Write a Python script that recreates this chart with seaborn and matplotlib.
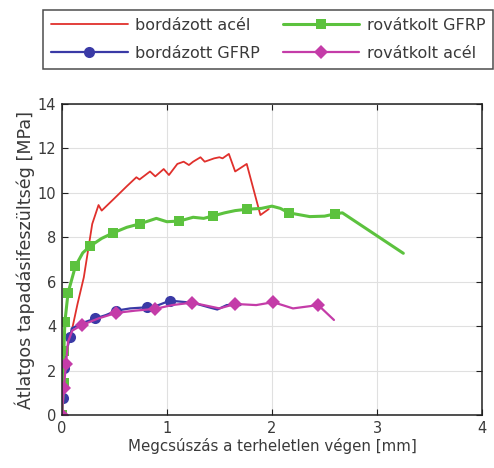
import matplotlib
matplotlib.use("Agg")
import matplotlib.pyplot as plt
import seaborn as sns
import pandas as pd

# --- data -------------------------------------------------------------
labels = ["bordázott acél", "bordázott GFRP", "rovátkolt GFRP", "rovátkolt acél"]

red_x = [0.10, 0.15, 0.21, 0.29, 0.35, 0.38, 0.49, 0.62, 0.71, 0.74, 0.84, 0.89,
         0.97, 1.02, 1.10, 1.16, 1.21, 1.25, 1.32, 1.36, 1.45, 1.50, 1.53, 1.59,
         1.65, 1.76, 1.89, 1.97]
red_y = [3.9, 5.0, 6.2, 8.6, 9.45, 9.2, 9.7, 10.3, 10.7, 10.6, 10.96, 10.74,
         11.07, 10.8, 11.3, 11.4, 11.25, 11.4, 11.6, 11.4, 11.55, 11.6, 11.55, 11.75,
         10.96, 11.3, 9.0, 9.27]

blue_x = [0.0, 0.015, 0.02, 0.04, 0.08, 0.095, 0.20, 0.32, 0.42, 0.52, 0.65, 0.81,
          0.92, 1.03, 1.25, 1.40, 1.48, 1.57, 1.70]
blue_y = [0.0, 0.75, 2.1, 2.8, 3.5, 3.9, 4.15, 4.35, 4.5, 4.7, 4.8, 4.85,
          4.95, 5.15, 5.05, 4.85, 4.75, 4.95, 4.95]
blue_marks = [1, 2, 4, 7, 9, 11, 13]

green_x = [0.0, 0.02, 0.02, 0.03, 0.06, 0.13, 0.20, 0.27, 0.38, 0.49, 0.62, 0.74,
           0.90, 1.00, 1.12, 1.25, 1.35, 1.44, 1.55, 1.65, 1.76, 1.90, 2.00, 2.08,
           2.16, 2.36, 2.50, 2.60, 2.67, 3.25]
green_y = [0.0, 1.43, 2.9, 4.2, 5.5, 6.7, 7.3, 7.6, 7.95, 8.2, 8.45, 8.6,
           8.85, 8.7, 8.73, 8.9, 8.85, 8.96, 9.1, 9.2, 9.26, 9.3, 9.4, 9.3,
           9.1, 8.93, 8.95, 9.05, 9.1, 7.28]
green_marks = [0, 1, 2, 3, 4, 5, 7, 9, 11, 14, 17, 20, 24, 27]

mag_x = [0.0, 0.02, 0.04, 0.06, 0.10, 0.19, 0.35, 0.52, 0.70, 0.89, 1.05, 1.24,
         1.40, 1.50, 1.65, 1.85, 2.01, 2.10, 2.20, 2.44, 2.59]
mag_y = [0.0, 1.2, 2.3, 3.3, 3.8, 4.05, 4.35, 4.6, 4.7, 4.78, 4.95, 5.06,
         4.9, 4.8, 5.0, 4.95, 5.08, 4.95, 4.8, 4.95, 4.28]
mag_marks = [0, 1, 2, 5, 7, 9, 11, 14, 16, 19]

x_ticks = [0, 1, 2, 3, 4]
y_ticks = [0, 2, 4, 6, 8, 10, 12, 14]
x_label = "Megcsúszás a terheletlen végen [mm]"
y_label = "Átlatgos tapadásifeszültség [MPa]"

# --- style ------------------------------------------------------------
sns.set_theme(style="whitegrid")
plt.rcParams["font.family"] = ["DejaVu Sans"]
txt = "#3a3a3a"

fig = plt.figure(figsize=(4.94, 4.68), dpi=100)
ax = fig.add_axes([0.125, 0.113, 0.851, 0.665])

c_red = "#e0302c"
c_blue = "#3a3aa6"
c_green = "#5cc23e"
c_mag = "#c43ca8"

sns.lineplot(x=red_x, y=red_y, ax=ax, color=c_red, lw=1.3, sort=False,
             estimator=None, label=labels[0])
sns.lineplot(x=blue_x, y=blue_y, ax=ax, color=c_blue, lw=1.6, sort=False,
             estimator=None, marker="o", markersize=8, markeredgewidth=0,
             markevery=blue_marks, label=labels[1])
sns.lineplot(x=green_x, y=green_y, ax=ax, color=c_green, lw=2.2, sort=False,
             estimator=None, marker="s", markersize=7.5, markeredgewidth=0,
             markevery=green_marks, label=labels[2])
sns.lineplot(x=mag_x, y=mag_y, ax=ax, color=c_mag, lw=1.6, sort=False,
             estimator=None, marker="D", markersize=7, markeredgewidth=0,
             markevery=mag_marks, label=labels[3])

ax.set_xlim(0, 4)
ax.set_ylim(0, 14)
ax.set_xticks(x_ticks)
ax.set_yticks(y_ticks)
ax.grid(True, color="#e0e0e0", lw=0.8)
for s in ax.spines.values():
    s.set_color("#202020")
    s.set_linewidth(1.1)
ax.tick_params(direction="in", length=4, width=0.8, colors="#202020",
               labelcolor=txt, labelsize=10.5, top=True, right=True,
               bottom=True, left=True, pad=4)
ax.set_xlabel(x_label, fontsize=10.8, color=txt, labelpad=2)
ax.set_ylabel(y_label, fontsize=12.6, color=txt, labelpad=2)

ax.get_legend().remove()
h, l = ax.get_legend_handles_labels()
leg = fig.legend(h, l, loc="upper left", bbox_to_anchor=(0.087, 0.979),
                 ncol=2, frameon=True, fancybox=False, fontsize=11.5,
                 handlelength=4.8, handletextpad=0.45, columnspacing=1.45,
                 labelspacing=0.8, borderpad=0.5, borderaxespad=0)
leg.get_frame().set_edgecolor("#202020")
leg.get_frame().set_linewidth(1.1)
for t in leg.get_texts():
    t.set_color(txt)

fig.savefig("out.png", dpi=100)
